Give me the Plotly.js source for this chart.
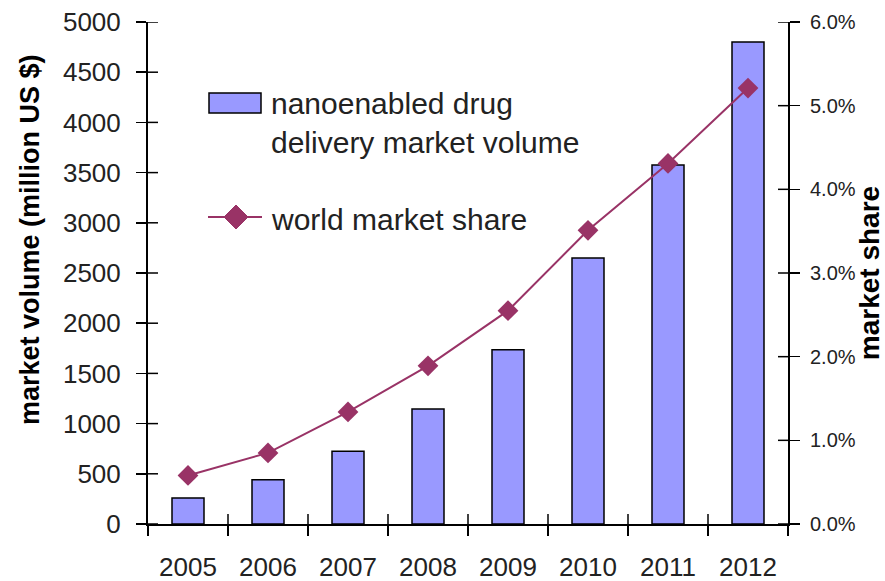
<!DOCTYPE html>
<html>
<head>
<meta charset="utf-8">
<script src="https://cdn.plot.ly/plotly-3.0.1.min.js"></script>
<style>html,body{margin:0;padding:0;background:#fff;}#chart{width:885px;height:581px;}</style>
</head>
<body>
<div id="chart"></div>
<script>
const years = ['2005','2006','2007','2008','2009','2010','2011','2012'];
const marketVolume = [260, 440, 725, 1145, 1735, 2650, 3575, 4800];
const marketShare = [0.0058, 0.0085, 0.0134, 0.0189, 0.0255, 0.0351, 0.0431, 0.0521];
const leftTicks = [0, 500, 1000, 1500, 2000, 2500, 3000, 3500, 4000, 4500, 5000];
const rightTicks = [0, 0.01, 0.02, 0.03, 0.04, 0.05, 0.06];
const legendBarText = ['nanoenabled drug', 'delivery market volume'];
const legendLineText = 'world market share';

const FONT = 'Liberation Sans, Arial, sans-serif';
const BAR_COLOR = '#9999FF';
const LINE_COLOR = '#993366';

// pixel -> paper helpers (plot area: x 148..788, y 22..524)
const PX = p => (p - 148) / 640;
const PY = p => (524 - p) / 502;

const traces = [
  {
    type: 'bar', x: years, y: marketVolume, xaxis: 'x', yaxis: 'y',
    name: legendBarText.join(' '), width: 0.4,
    marker: {color: BAR_COLOR, line: {color: '#000', width: 1.5}},
    showlegend: false, hoverinfo: 'skip'
  },
  {
    type: 'scatter', mode: 'lines+markers', x: years, y: marketShare, xaxis: 'x', yaxis: 'y2',
    name: legendLineText,
    line: {color: LINE_COLOR, width: 2},
    marker: {symbol: 'diamond', size: 16, color: LINE_COLOR},
    showlegend: false, hoverinfo: 'skip'
  }
];

const tickFont = {family: FONT, size: 26, color: '#222'};
const legendFont = {family: FONT, size: 30, color: '#222'};

const TL = 10; // inner half of crossing ticks, px
const tickLine = {color: '#000', width: 1.5};
const innerTicks = [];
leftTicks.forEach(v => innerTicks.push({type: 'line', layer: 'above', xref: 'paper', yref: 'y',
  x0: 0, x1: TL / 640, y0: v, y1: v, line: tickLine}));
rightTicks.forEach(v => innerTicks.push({type: 'line', layer: 'above', xref: 'paper', yref: 'y2',
  x0: 1 - TL / 640, x1: 1, y0: v, y1: v, line: tickLine}));
years.slice(1).forEach((_, i) => innerTicks.push({type: 'line', layer: 'above', xref: 'x', yref: 'paper',
  x0: i + 0.5, x1: i + 0.5, y0: 0, y1: TL / 502, line: tickLine}));

const dh = 12 / 640, dv = 12 / 502;
const dcx = PX(236), dcy = PY(217);

const layout = {
  width: 885, height: 581,
  margin: {l: 148, r: 97, t: 22, b: 57, pad: 0},
  paper_bgcolor: '#fff', plot_bgcolor: '#fff',
  font: {family: FONT, color: '#222'},
  showlegend: false,
  xaxis: {
    type: 'category', categoryarray: years, range: [-0.5, 7.5],
    showline: true, linecolor: '#000', linewidth: 2,
    ticks: 'outside', ticklen: 10, tickwidth: 1.5, tickcolor: '#000', tickson: 'boundaries',
    tickfont: tickFont, ticklabelstandoff: 19,
    showgrid: false, zeroline: false, fixedrange: true
  },
  yaxis: {
    range: [0, 5000], tickvals: leftTicks, ticktext: leftTicks.map(String),
    showline: true, linecolor: '#000', linewidth: 2,
    ticks: 'outside', ticklen: 10, tickwidth: 1.5, tickcolor: '#000',
    tickfont: tickFont, ticklabelstandoff: 10,
    showgrid: false, zeroline: false, fixedrange: true
  },
  yaxis2: {
    range: [0, 0.06], tickvals: rightTicks, ticktext: rightTicks.map(v => (v * 100).toFixed(1) + '%'),
    overlaying: 'y', side: 'right', anchor: 'x',
    showline: true, linecolor: '#000', linewidth: 2,
    ticks: 'outside', ticklen: 10, tickwidth: 1.5, tickcolor: '#000',
    tickfont: {family: FONT, size: 20, color: '#222'}, ticklabelstandoff: 6,
    showgrid: false, zeroline: false, fixedrange: true,
    title: {text: '<b>market share</b>', font: {family: FONT, size: 28, color: '#000'}, standoff: 12}
  },
  shapes: innerTicks.concat([
    {type: 'rect', xref: 'paper', yref: 'paper', x0: PX(209), x1: PX(261), y0: PY(113), y1: PY(93),
     fillcolor: BAR_COLOR, line: {color: '#000', width: 1.5}},
    {type: 'line', xref: 'paper', yref: 'paper', x0: PX(208), x1: PX(262), y0: dcy, y1: dcy,
     line: {color: LINE_COLOR, width: 2}},
    {type: 'path', xref: 'paper', yref: 'paper',
     path: `M ${dcx - dh},${dcy} L ${dcx},${dcy + dv} L ${dcx + dh},${dcy} L ${dcx},${dcy - dv} Z`,
     fillcolor: LINE_COLOR, line: {color: LINE_COLOR, width: 1}}
  ]),
  annotations: [
    {xref: 'paper', yref: 'paper', x: PX(30), y: PY(240), xanchor: 'center', yanchor: 'middle',
     text: '<b>market volume (million US $)</b>', textangle: -90, showarrow: false,
     font: {family: FONT, size: 27, color: '#000'}},
    {xref: 'paper', yref: 'paper', x: PX(269), y: PY(104), xanchor: 'left', yanchor: 'middle',
     text: legendBarText[0], showarrow: false, font: legendFont},
    {xref: 'paper', yref: 'paper', x: PX(269), y: PY(142), xanchor: 'left', yanchor: 'middle',
     text: legendBarText[1], showarrow: false, font: legendFont},
    {xref: 'paper', yref: 'paper', x: PX(269), y: PY(219), xanchor: 'left', yanchor: 'middle',
     text: legendLineText, showarrow: false, font: legendFont}
  ]
};

Plotly.newPlot('chart', traces, layout, {displayModeBar: false, staticPlot: true});
</script>
</body>
</html>
